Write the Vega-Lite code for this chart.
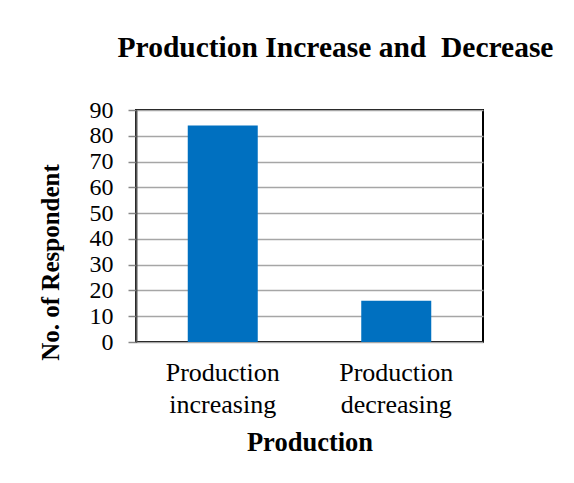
{
  "$schema": "https://vega.github.io/schema/vega-lite/v6.json",
  "autosize": {"type": "none"},
  "width": 347,
  "height": 232,
  "padding": {"left": 136, "top": 110, "right": 91, "bottom": 141},
  "background": "white",
  "title": {
    "text": "Production Increase and \u00a0Decrease",
    "font": "Liberation Serif",
    "fontSize": 29.5,
    "fontWeight": "bold",
    "color": "#000000",
    "anchor": "middle",
    "offset": 35,
    "dx": 26
  },
  "data": {
    "values": [
      {"category": "Production increasing", "value": 84},
      {"category": "Production decreasing", "value": 16}
    ]
  },
  "mark": {"type": "bar", "color": "#0070C0", "size": 70},
  "encoding": {
    "x": {
      "field": "category",
      "type": "nominal",
      "sort": null,
      "title": "Production",
      "axis": {
        "labelAngle": 0,
        "labelExpr": "split(datum.value, ' ')",
        "labelFont": "Liberation Serif",
        "labelFontSize": 26,
        "labelColor": "#000000",
        "labelLineHeight": 32,
        "labelPadding": 17,
        "ticks": false,
        "domain": false,
        "titleFont": "Liberation Serif",
        "titleFontSize": 26.5,
        "titleFontWeight": "bold",
        "titleColor": "#000000",
        "titlePadding": 12
      }
    },
    "y": {
      "field": "value",
      "type": "quantitative",
      "title": "No. of Respondent",
      "scale": {"domain": [0, 90], "nice": false},
      "axis": {
        "values": [0, 10, 20, 30, 40, 50, 60, 70, 80, 90],
        "labelOverlap": false,
        "labelFont": "Liberation Serif",
        "labelFontSize": 24,
        "labelColor": "#000000",
        "labelPadding": 15,
        "tickSize": 8,
        "tickColor": "#888888",
        "tickWidth": 1.5,
        "domainColor": "#555555",
        "domainWidth": 2,
        "gridColor": "#a6a6a6",
        "gridWidth": 1.5,
        "titleFont": "Liberation Serif",
        "titleFontSize": 25,
        "titleFontWeight": "bold",
        "titleColor": "#000000",
        "titlePadding": 26,
        "titleY": 152
      }
    }
  },
  "config": {
    "view": {"stroke": "#000000", "strokeWidth": 2},
    "scale": {"bandPaddingInner": 0.6, "bandPaddingOuter": 0.3}
  }
}
